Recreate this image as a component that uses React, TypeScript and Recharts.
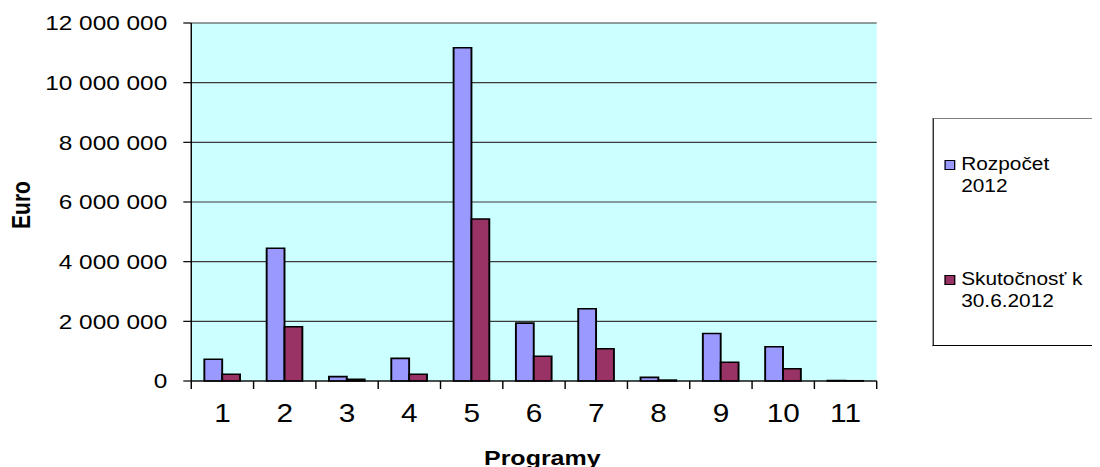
import { BarChart, Bar, XAxis, YAxis, CartesianGrid, Legend } from "recharts";

// values (euro)
const programs = ["1", "2", "3", "4", "5", "6", "7", "8", "9", "10", "11"];
const rozpocet = [730000, 4450000, 145000, 760000, 11170000, 1940000, 2420000, 120000, 1590000, 1150000, 15000];
const skutocnost = [224000, 1820000, 56000, 224000, 5430000, 830000, 1080000, 30000, 630000, 410000, 8000];
const yTicks = [0, 2000000, 4000000, 6000000, 8000000, 10000000, 12000000];

const legendItems = [
  { lines: ["Rozpočet", "2012"], color: "#9999FF" },
  { lines: ["Skutočnosť k", "30.6.2012"], color: "#993366" },
];

const data = programs.map((p, i) => ({
  program: p,
  rozpocet: rozpocet[i],
  skutocnost: skutocnost[i],
}));

const FONT = "'Liberation Sans', Arial, sans-serif";
const STRETCH = 1.19; // the original is stretched horizontally
const TICK_SIZE = 8;
const TICK_MARGIN = 15;

const formatEuro = (v: number) => String(v).replace(/\B(?=(\d{3})+(?!\d))/g, " ");

// label at the category centre, tick marks on the category boundaries (Excel style)
const XTick = (props: any) => {
  const { x, y, payload, width, visibleTicksCount, index } = props;
  const band = width / visibleTicksCount;
  const axisY = y - TICK_SIZE - TICK_MARGIN;
  const left = x - band / 2;
  return (
    <g>
      <line x1={left} x2={left} y1={axisY} y2={axisY + TICK_SIZE} stroke="#000" strokeWidth={1.2} />
      {index === visibleTicksCount - 1 && (
        <line x1={left + band} x2={left + band} y1={axisY} y2={axisY + TICK_SIZE} stroke="#000" strokeWidth={1.2} />
      )}
      <text x={x} y={y} dy="0.71em" textAnchor="middle" fontSize={25} fontFamily={FONT} fill="#000">
        {payload.value}
      </text>
    </g>
  );
};

const LegendBox = () => (
  <div
    style={{
      boxSizing: "border-box",
      width: 134,
      height: 228,
      borderTop: "1px solid #808080",
      borderLeft: "1px solid #000",
      borderBottom: "1px solid #000",
      background: "#fff",
      fontFamily: FONT,
      fontSize: 17.5,
      lineHeight: "21.5px",
      color: "#000",
      whiteSpace: "nowrap",
      overflow: "hidden",
      paddingTop: 35,
    }}
  >
    {legendItems.map((item, i) => (
      <div key={i} style={{ display: "flex", alignItems: "flex-start", marginBottom: i === 0 ? 72 : 0 }}>
        <span
          style={{
            display: "inline-block",
            boxSizing: "border-box",
            width: 9,
            height: 10,
            marginLeft: 9,
            marginTop: 6,
            marginRight: 5,
            background: item.color,
            border: "1.5px solid #000",
          }}
        />
        <span>
          {item.lines[0]}
          <br />
          {item.lines[1]}
        </span>
      </div>
    ))}
  </div>
);

export default function App() {
  return (
    <div
      style={{
        width: 910,
        height: 459,
        transform: `scaleX(${STRETCH})`,
        transformOrigin: "0 0",
      }}
    >
      <BarChart
        width={910}
        height={459}
        data={data}
        margin={{ top: 15, right: 180, left: 0, bottom: 0 }}
        barGap={0}
        barCategoryGap="21%"
      >
        <CartesianGrid vertical={false} fill="#CCFFFF" stroke="#3a3a3a" strokeWidth={1.2} />
        <XAxis
          dataKey="program"
          interval={0}
          height={86}
          tickSize={TICK_SIZE}
          tickMargin={TICK_MARGIN}
          tickLine={false}
          axisLine={{ stroke: "#000", strokeWidth: 1.2 }}
          tick={<XTick />}
          label={(props: any) => {
            const vb = props.viewBox;
            return (
              <text
                x={vb.x + vb.width / 2 + 7}
                y={457}
                textAnchor="middle"
                fontSize={21}
                fontWeight="bold"
                fontFamily={FONT}
                fill="#000"
              >
                Programy
              </text>
            );
          }}
        />
        <YAxis
          type="number"
          domain={[0, 12000000]}
          ticks={yTicks}
          interval={0}
          width={154}
          tickSize={6.7}
          tickMargin={13.5}
          tickFormatter={formatEuro}
          tick={{ fontSize: 20.5, fontFamily: FONT, fill: "#000" }}
          axisLine={{ stroke: "#000", strokeWidth: 1.2 }}
          tickLine={{ stroke: "#000", strokeWidth: 1.2 }}
          label={() => (
            <text
              x={11}
              y={197}
              transform="rotate(-90 11 197)"
              textAnchor="middle"
              dominantBaseline="central"
              fontSize={21}
              fontWeight="bold"
              fontFamily={FONT}
              fill="#000"
            >
              Euro
            </text>
          )}
        />
        <YAxis
          yAxisId="right"
          orientation="right"
          domain={[0, 12000000]}
          width={0}
          tick={false}
          tickLine={false}
          axisLine={{ stroke: "#808080", strokeWidth: 1.5 }}
        />
        <Legend
          layout="horizontal"
          align="center"
          verticalAlign="middle"
          content={<LegendBox />}
          wrapperStyle={{ left: 777, top: 110, width: 134, height: 228 }}
        />
        <Bar
          dataKey="rozpocet"
          name="Rozpočet 2012"
          fill="#9999FF"
          stroke="#000"
          strokeWidth={1.6}
          isAnimationActive={false}
        />
        <Bar
          dataKey="skutocnost"
          name="Skutočnosť k 30.6.2012"
          fill="#993366"
          stroke="#000"
          strokeWidth={1.6}
          isAnimationActive={false}
        />
      </BarChart>
    </div>
  );
}
